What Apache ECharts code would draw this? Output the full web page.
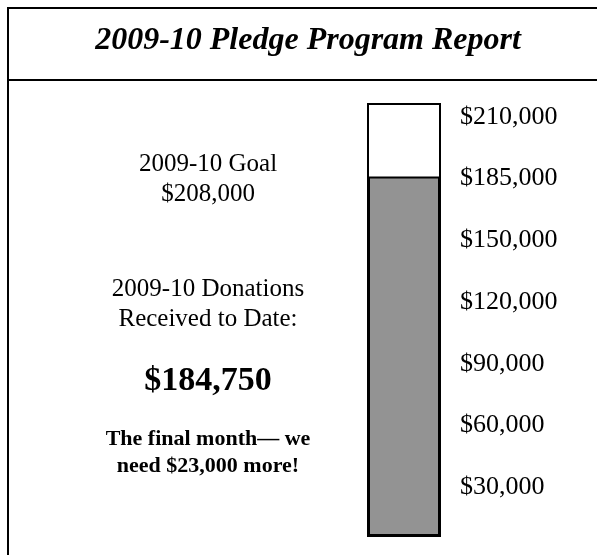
<!DOCTYPE html>
<html>
  <head>
    <meta charset="utf-8" />
    <title>2009-10 Pledge Program Report</title>
    <script src="https://cdn.jsdelivr.net/npm/echarts@6/dist/echarts.min.js"></script>
    <style>
      html, body { margin: 0; padding: 0; background: #fff; }
    </style>
  </head>
  <body>
    <div id="main" style="width: 597px; height: 555px"></div>
    <script type="text/javascript">
      // data
      var reportTitle = '2009-10 Pledge Program Report';
      var goal = 208000;
      var received = 184750;
      var stillNeeded = 23000;
      var thermoCategory = ['Donations'];
      // scale label column, bottom to top (evenly spaced in the picture)
      var tickValues = [30000, 60000, 90000, 120000, 150000, 185000, 210000];
      // value at the very top of the thermometer tube
      var tubeTop = 222000;

      function money(v) {
        return '$' + v.toLocaleString('en-US');
      }

      var serif = '"Liberation Serif", "Times New Roman", serif';
      var textX = 208;

      var myChart = echarts.init(document.getElementById('main'));

      var option = {
        animation: false,
        backgroundColor: '#fff',
        grid: [
          { left: 368, width: 72, top: 104, height: 432 },
          { left: 368, width: 82, top: 86, height: 432 }
        ],
        xAxis: [
          { gridIndex: 0, type: 'category', data: thermoCategory, show: false },
          { gridIndex: 1, type: 'value', show: false }
        ],
        yAxis: [
          { gridIndex: 0, type: 'value', min: 0, max: tubeTop, show: false },
          {
            gridIndex: 1,
            type: 'category',
            position: 'right',
            data: tickValues.map(money),
            axisLine: { show: false },
            axisTick: { show: false },
            splitLine: { show: false },
            axisLabel: {
              margin: 10,
              color: '#000',
              fontFamily: serif,
              fontSize: 26
            }
          }
        ],
        series: [
          {
            type: 'bar',
            xAxisIndex: 0,
            yAxisIndex: 0,
            data: [received],
            barWidth: '100%',
            showBackground: true,
            backgroundStyle: { color: '#fff', borderColor: '#000', borderWidth: 2 },
            itemStyle: { color: '#939393', borderColor: '#000', borderWidth: 2 },
            silent: true
          }
        ],
        graphic: [
          // frame and title divider
          {
            type: 'rect',
            shape: { x: 8, y: 8, width: 700, height: 700 },
            style: { fill: 'none', stroke: '#000', lineWidth: 2 }
          },
          {
            type: 'line',
            shape: { x1: 8, y1: 80, x2: 597, y2: 80 },
            style: { stroke: '#000', lineWidth: 2 }
          },
          {
            type: 'text',
            x: 308,
            y: 41,
            style: {
              text: reportTitle,
              font: 'italic bold 32px ' + serif,
              fill: '#000',
              textAlign: 'center',
              textVerticalAlign: 'middle'
            }
          },
          {
            type: 'text',
            x: textX,
            y: 179,
            style: {
              text: '2009-10 Goal\n' + money(goal),
              font: '25px ' + serif,
              lineHeight: 30,
              fill: '#000',
              textAlign: 'center',
              textVerticalAlign: 'middle'
            }
          },
          {
            type: 'text',
            x: textX,
            y: 304,
            style: {
              text: '2009-10 Donations\nReceived to Date:',
              font: '25px ' + serif,
              lineHeight: 30,
              fill: '#000',
              textAlign: 'center',
              textVerticalAlign: 'middle'
            }
          },
          {
            type: 'text',
            x: textX,
            y: 381,
            style: {
              text: money(received),
              font: 'bold 34px ' + serif,
              fill: '#000',
              textAlign: 'center',
              textVerticalAlign: 'middle'
            }
          },
          {
            type: 'text',
            x: textX,
            y: 453,
            style: {
              text: 'The final month\u2014 we\nneed ' + money(stillNeeded) + ' more!',
              font: 'bold 22px ' + serif,
              lineHeight: 27,
              fill: '#000',
              textAlign: 'center',
              textVerticalAlign: 'middle'
            }
          }
        ]
      };

      myChart.setOption(option);
    </script>
  </body>
</html>
